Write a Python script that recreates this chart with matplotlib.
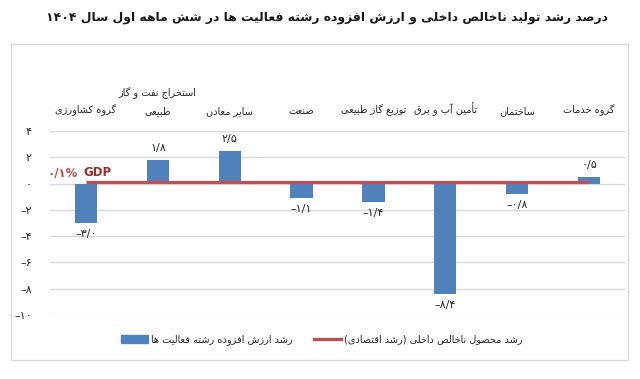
import matplotlib
matplotlib.use("Agg")
import matplotlib.pyplot as plt
from matplotlib.patches import Rectangle, Patch
from matplotlib.lines import Line2D

# ---------------- data ----------------
title = "درصد رشد تولید ناخالص داخلی و ارزش افزوده رشته فعالیت ها در شش ماهه اول سال ۱۴۰۴"
categories = [
    "گروه کشاورزی",
    "استخراج نفت و گاز\nطبیعی",
    "سایر معادن",
    "صنعت",
    "توزیع گاز طبیعی",
    "تأمین آب و برق",
    "ساختمان",
    "گروه خدمات",
]
sector_growth = [-3.0, 1.8, 2.5, -1.1, -1.4, -8.4, -0.8, 0.5]
gdp_growth = [0.1, 0.1, 0.1, 0.1, 0.1, 0.1, 0.1, 0.1]
gdp_label_value = "۰/۱%"
gdp_label_text = "GDP"
yticks = [-10, -8, -6, -4, -2, 0, 2, 4]
legend_bars = "رشد ارزش افزوده رشته فعالیت ها"
legend_line = "رشد محصول ناخالص داخلی (رشد اقتصادی)"

# ---------------- Persian shaping (presentation forms + visual order) -------
FORMS = {
    '\u0628': ('\uFE8F', '\uFE90', '\uFE91', '\uFE92'),
    '\u067E': ('\uFB56', '\uFB57', '\uFB58', '\uFB59'),
    '\u062A': ('\uFE95', '\uFE96', '\uFE97', '\uFE98'),
    '\u062B': ('\uFE99', '\uFE9A', '\uFE9B', '\uFE9C'),
    '\u062C': ('\uFE9D', '\uFE9E', '\uFE9F', '\uFEA0'),
    '\u0686': ('\uFB7A', '\uFB7B', '\uFB7C', '\uFB7D'),
    '\u062D': ('\uFEA1', '\uFEA2', '\uFEA3', '\uFEA4'),
    '\u062E': ('\uFEA5', '\uFEA6', '\uFEA7', '\uFEA8'),
    '\u0633': ('\uFEB1', '\uFEB2', '\uFEB3', '\uFEB4'),
    '\u0634': ('\uFEB5', '\uFEB6', '\uFEB7', '\uFEB8'),
    '\u0635': ('\uFEB9', '\uFEBA', '\uFEBB', '\uFEBC'),
    '\u0636': ('\uFEBD', '\uFEBE', '\uFEBF', '\uFEC0'),
    '\u0637': ('\uFEC1', '\uFEC2', '\uFEC3', '\uFEC4'),
    '\u0638': ('\uFEC5', '\uFEC6', '\uFEC7', '\uFEC8'),
    '\u0639': ('\uFEC9', '\uFECA', '\uFECB', '\uFECC'),
    '\u063A': ('\uFECD', '\uFECE', '\uFECF', '\uFED0'),
    '\u0641': ('\uFED1', '\uFED2', '\uFED3', '\uFED4'),
    '\u0642': ('\uFED5', '\uFED6', '\uFED7', '\uFED8'),
    '\u06A9': ('\uFB8E', '\uFB8F', '\uFB90', '\uFB91'),
    '\u06AF': ('\uFB92', '\uFB93', '\uFB94', '\uFB95'),
    '\u0644': ('\uFEDD', '\uFEDE', '\uFEDF', '\uFEE0'),
    '\u0645': ('\uFEE1', '\uFEE2', '\uFEE3', '\uFEE4'),
    '\u0646': ('\uFEE5', '\uFEE6', '\uFEE7', '\uFEE8'),
    '\u0647': ('\uFEE9', '\uFEEA', '\uFEEB', '\uFEEC'),
    '\u06CC': ('\uFBFC', '\uFBFD', '\uFBFE', '\uFBFF'),
    '\u0626': ('\uFE89', '\uFE8A', '\uFE8B', '\uFE8C'),
    '\u0627': ('\uFE8D', '\uFE8E', None, None),
    '\u0622': ('\uFE81', '\uFE82', None, None),
    '\u0623': ('\uFE83', '\uFE84', None, None),
    '\u062F': ('\uFEA9', '\uFEAA', None, None),
    '\u0630': ('\uFEAB', '\uFEAC', None, None),
    '\u0631': ('\uFEAD', '\uFEAE', None, None),
    '\u0632': ('\uFEAF', '\uFEB0', None, None),
    '\u0698': ('\uFB8A', '\uFB8B', None, None),
    '\u0648': ('\uFEED', '\uFEEE', None, None),
}
LAM_ALEF = {'\u0627': ('\uFEFB', '\uFEFC'), '\u0622': ('\uFEF5', '\uFEF6'),
            '\u0623': ('\uFEF7', '\uFEF8')}


def dual(c):
    return c in FORMS and FORMS[c][2] is not None


def shape_line(s):
    out = []
    i = 0
    n = len(s)
    while i < n:
        c = s[i]
        if c not in FORMS:
            out.append(c)
            i += 1
            continue
        prev = s[i - 1] if i > 0 else ''
        jp = dual(prev)
        if c == '\u0644' and i + 1 < n and s[i + 1] in LAM_ALEF:
            iso, fin = LAM_ALEF[s[i + 1]]
            out.append(fin if jp else iso)
            i += 2
            continue
        nxt = s[i + 1] if i + 1 < n else ''
        jn = dual(c) and nxt in FORMS
        iso, fin, ini, med = FORMS[c]
        if jp and jn:
            out.append(med)
        elif jn:
            out.append(ini)
        elif jp:
            out.append(fin)
        else:
            out.append(iso)
        i += 1
    shaped = ''.join(out)
    # visual order: reverse, keep digit/latin runs LTR, mirror parentheses
    tokens = []
    buf = ''
    for ch in shaped:
        ltr = ch.isdigit() or ('a' <= ch.lower() <= 'z')
        if ltr:
            buf += ch
        else:
            if buf:
                tokens.append(buf)
                buf = ''
            tokens.append(ch)
    if buf:
        tokens.append(buf)
    mirror = {'(': ')', ')': '('}
    return ''.join(mirror.get(t, t) for t in reversed(tokens))


def fa(s):
    return '\n'.join(shape_line(line) for line in s.split('\n'))


FA_DIGITS = str.maketrans('0123456789', '۰۱۲۳۴۵۶۷۸۹')


def fa_number(v, decimals=1):
    txt = f"{abs(v):.{decimals}f}".replace('.', '/').translate(FA_DIGITS)
    return ('–' + txt) if v < 0 else txt


# ---------------- figure ----------------
W, H = 640, 379
fig = plt.figure(figsize=(W / 100, H / 100), dpi=100)
fig.patch.set_facecolor('white')

ax = fig.add_axes([50 / W, 1 - 315 / H, 575 / W, 184 / H])
x = list(range(len(categories)))

bar_color = '#4F81BD'
line_color = '#C0504D'

ax.bar(x, sector_growth, width=0.31, color=bar_color, zorder=2)
ax.plot(x, gdp_growth, color=line_color, lw=2.3, zorder=3, solid_capstyle='butt')

for xi, v in zip(x, sector_growth):
    if v >= 0:
        ax.annotate(fa_number(v), (xi, v), xytext=(0, 5), textcoords='offset points',
                    ha='center', va='bottom', fontsize=8, color='#262626')
    else:
        ax.annotate(fa_number(v), (xi, v), xytext=(0, -4), textcoords='offset points',
                    ha='center', va='top', fontsize=8, color='#262626')

ax.set_xlim(-0.5, len(categories) - 0.5)
ax.set_ylim(yticks[0], yticks[-1])
ax.set_yticks(yticks)
ax.set_yticklabels([fa_number(t, 0) for t in yticks], fontsize=8, color='#262626')
ax.tick_params(axis='y', length=0, pad=13)

ax.set_xticks(x)
ax.set_xticklabels([fa(c) for c in categories], fontsize=7, color='#262626')
ax.tick_params(axis='x', length=0, top=False, bottom=False,
               labeltop=True, labelbottom=False, pad=11)
for lab in ax.get_xticklabels():
    lab.set_linespacing(1.9)

ax.grid(axis='y', color='#D9D9D9', lw=1, zorder=0)
ax.set_axisbelow(True)
for sp in ax.spines.values():
    sp.set_visible(False)

# white box behind the GDP label (hides the zero gridline left of the first bar)
fig.patches.append(Rectangle((47 / W, 1 - 184 / H), 27 / W, 24 / H, fc='white',
                             ec='none', transform=fig.transFigure, zorder=5))
# GDP label
fig.text(47 / W, 1 - 173 / H, gdp_label_value, ha='left', va='center',
         fontsize=8.5, color='#C0504D', fontweight='bold', zorder=6)
fig.text(83 / W, 1 - 173 / H, gdp_label_text, ha='left', va='center',
         fontsize=8.5, color='#A52A2A', fontweight='bold', zorder=6)

# title
fig.text(327 / W, 1 - 17 / H, fa(title), ha='center', va='center',
         fontsize=8.9, fontweight='bold', color='#1a1a1a')

# legend
handles = [Patch(facecolor=bar_color, edgecolor=bar_color),
           Line2D([0], [0], color=line_color, lw=2.3)]
fig.legend(handles, [fa(legend_bars), fa(legend_line)], loc='center',
           bbox_to_anchor=(322 / W, 1 - 340 / H), ncol=2, frameon=False,
           fontsize=7, markerfirst=True, handlelength=2.8, handleheight=0.8,
           handletextpad=0.3, columnspacing=2.2, labelcolor='#262626')

# chart frame
fig.patches.append(Rectangle((11 / W, 1 - 360 / H), 617 / W, 316 / H, fill=False,
                             ec='#D9D9D9', lw=1, transform=fig.transFigure))

fig.savefig('out.png', dpi=100)
